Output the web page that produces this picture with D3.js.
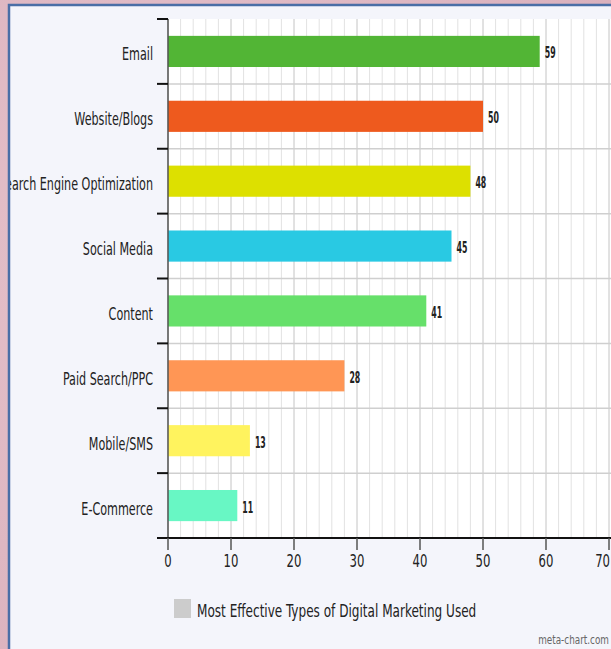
<!DOCTYPE html>
<html><head><meta charset="utf-8">
<script src="https://cdn.jsdelivr.net/npm/d3@7"></script>
<style>
html,body{margin:0;padding:0;overflow:hidden;background:#e2bcc6;}
svg{display:block;}
text{font-family:"DejaVu Sans Condensed","DejaVu Sans",sans-serif;}
</style></head>
<body>
<svg id="c" width="611" height="649"></svg>
<script>
const categories = ["Email","Website/Blogs","Search Engine Optimization","Social Media","Content","Paid Search/PPC","Mobile/SMS","E-Commerce"];
const values = [59,50,48,45,41,28,13,11];
const colors = ["#52b535","#ee5a1e","#dde000","#29c9e3","#66e06a","#ff9655","#fff35e","#68f7c4"];
const xTicks = [0,10,20,30,40,50,60,70];
const legendLabel = "Most Effective Types of Digital Marketing Used";
const credit = "meta-chart.com";

const svg = d3.select("#c");
const defs = svg.append("defs");
const g0 = defs.append("radialGradient").attr("id","bg").attr("cx","30%").attr("cy","40%").attr("r","80%");
g0.append("stop").attr("offset","0%").attr("stop-color","#e6c3cc");
g0.append("stop").attr("offset","100%").attr("stop-color","#dab1bd");
defs.append("clipPath").attr("id","panelClip").append("rect").attr("x",10).attr("y",6).attr("width",640).attr("height",700);
svg.append("rect").attr("width",611).attr("height",649).attr("fill","url(#bg)");
svg.append("rect").attr("x",9).attr("y",5).attr("width",640).attr("height",700)
  .attr("fill","#f4f5fb").attr("stroke","#4a6ea6").attr("stroke-width",2.5);

const pL = 168, pT = 19, pB = 538, pR = 609;
const x = d3.scaleLinear().domain([0,70]).range([pL,pR]);
const y = d3.scaleBand().domain(categories).range([pT,pB]).paddingInner(0.52).paddingOuter(0.26);
const yb = d3.scaleBand().domain(categories).range([pT,pB]);

const sq = (sel, sx) => sel.attr("transform", function(){ 
  const t = d3.select(this); return `translate(${t.attr("data-x")},${t.attr("data-y")}) scale(${sx},1)`; });

svg.append("rect").attr("x",pL).attr("y",pT).attr("width",pR-pL+5).attr("height",pB-pT).attr("fill","#ffffff");
svg.append("g").selectAll("line").data(d3.range(0,71,2)).join("line")
  .attr("x1",d=>x(d)).attr("x2",d=>x(d)).attr("y1",pT).attr("y2",pB)
  .attr("stroke",d=>d%10===0?"#c4c4c4":"#e2e2e2").attr("stroke-width",1);
svg.append("g").selectAll("line").data(categories.slice(1)).join("line")
  .attr("x1",pL).attr("x2",pR+5).attr("y1",d=>yb(d)).attr("y2",d=>yb(d))
  .attr("stroke","#cfcfcf").attr("stroke-width",1.5);

svg.append("g").selectAll("rect").data(values).join("rect")
  .attr("x",x(0)).attr("y",(d,i)=>y(categories[i])).attr("width",d=>x(d)-x(0))
  .attr("height",y.bandwidth()).attr("fill",(d,i)=>colors[i]);
svg.append("g").selectAll("text").data(values).join("text")
  .attr("data-x",d=>x(d)+5).attr("data-y",(d,i)=>y(categories[i])+y.bandwidth()/2+7)
  .attr("font-size",15).attr("font-weight","bold").attr("fill","#222").text(d=>d)
  .call(sq,0.58);

const yAx = svg.append("g");
yAx.append("line").attr("x1",pL).attr("x2",pL).attr("y1",pT).attr("y2",pB).attr("stroke","#555").attr("stroke-width",1.5);
yAx.selectAll("line.tk").data(categories.map(d=>yb(d)).concat([pB])).join("line").attr("class","tk")
  .attr("x1",pL-11).attr("x2",pL).attr("y1",d=>d).attr("y2",d=>d)
  .attr("stroke","#111").attr("stroke-width",2);
yAx.append("g").attr("clip-path","url(#panelClip)").selectAll("text").data(categories).join("text")
  .attr("data-x",153).attr("data-y",d=>yb(d)+yb.bandwidth()/2+9).attr("text-anchor","end")
  .attr("font-size",17).attr("fill","#222").text(d=>d)
  .call(sq,0.73);

const xAx = svg.append("g");
xAx.append("line").attr("x1",pL-11).attr("x2",pR+5).attr("y1",pB).attr("y2",pB).attr("stroke","#111").attr("stroke-width",2);
xAx.selectAll("line.tk").data(xTicks).join("line").attr("class","tk")
  .attr("x1",d=>x(d)).attr("x2",d=>x(d)).attr("y1",pB).attr("y2",pB+12)
  .attr("stroke","#555").attr("stroke-width",1.5);
xAx.selectAll("text").data(xTicks).join("text")
  .attr("data-x",(d,i)=>i===xTicks.length-1?610:x(d)).attr("data-y",pB+29)
  .attr("text-anchor",(d,i)=>i===xTicks.length-1?"end":"middle")
  .attr("font-size",18).attr("fill","#222").text(d=>d)
  .call(sq,0.72);

svg.append("rect").attr("x",174).attr("y",599).attr("width",17).attr("height",19).attr("fill","#cccccc");
svg.append("text").attr("data-x",197).attr("data-y",617).attr("font-size",17).attr("fill","#222").text(legendLabel).call(sq,0.79);
svg.append("text").attr("data-x",609).attr("data-y",644).attr("text-anchor","end").attr("font-size",12).attr("fill","#666").text(credit).call(sq,0.82);
</script>
</body></html>
